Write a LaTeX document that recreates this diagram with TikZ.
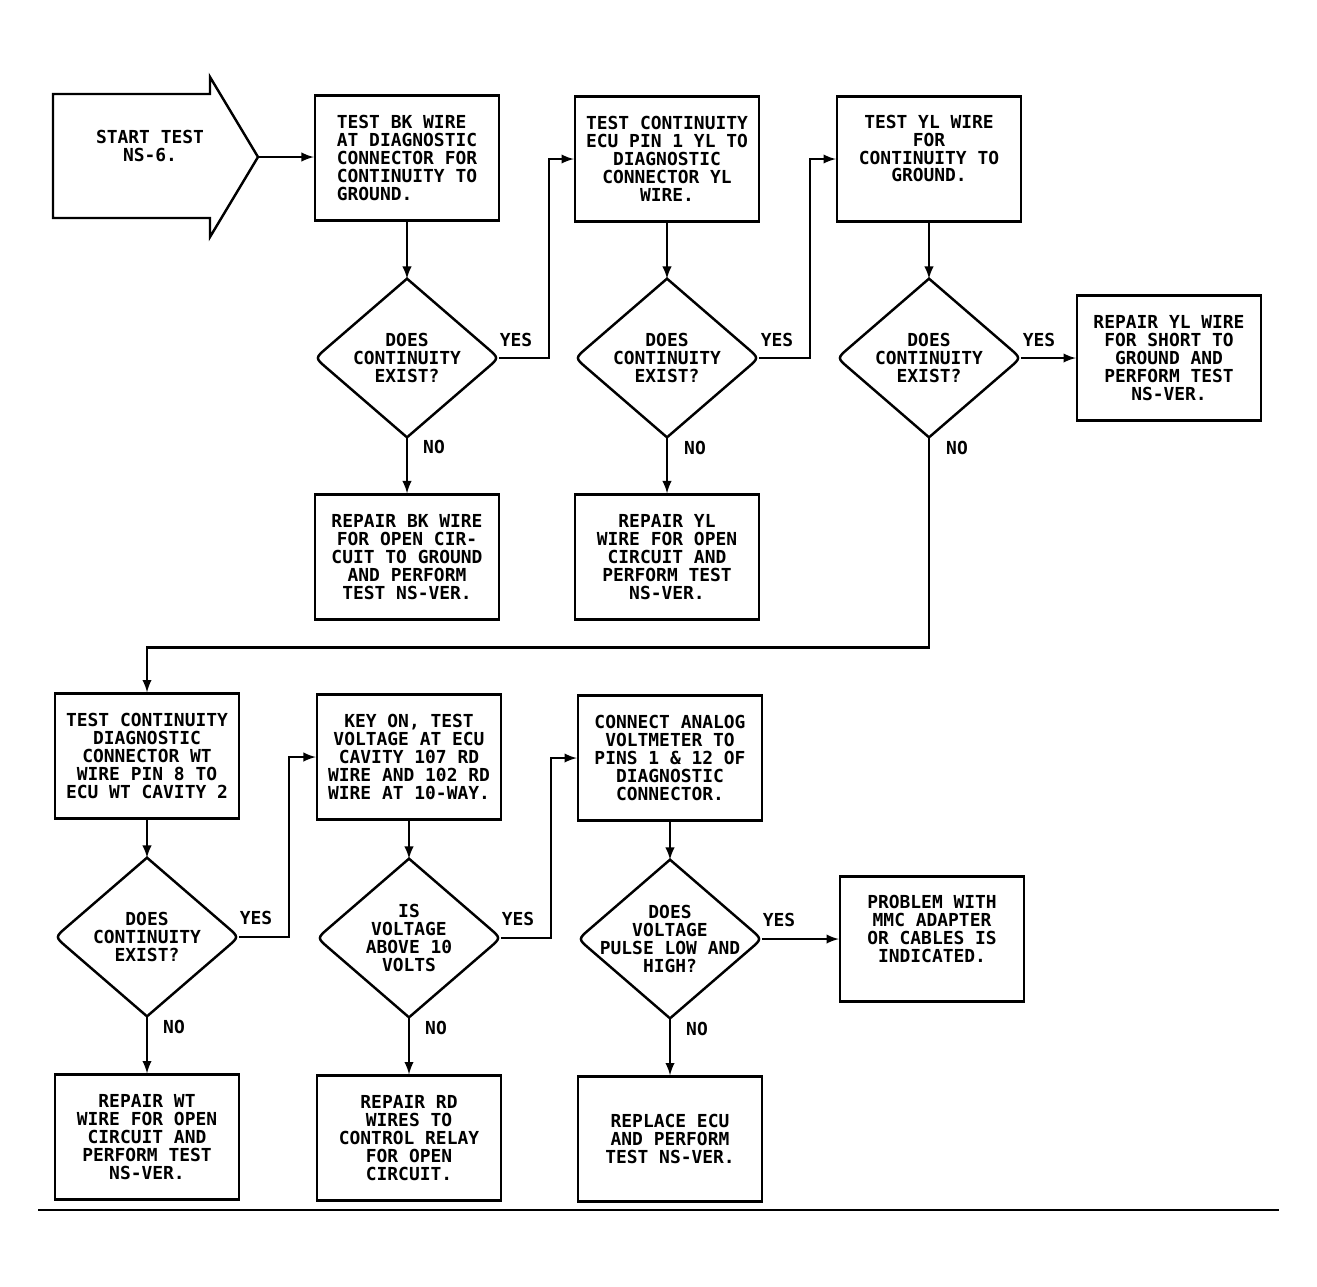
\documentclass[tikz,border=0pt]{standalone}
\usepackage{fontspec}
\setmonofont{DejaVu Sans Mono}
\usetikzlibrary{calc}

\begin{document}
\begin{tikzpicture}[x=0.02cm,y=-0.02cm,
          font=\ttfamily\bfseries\fontsize{10.2}{10.2}\selectfont,
          flowline/.style={line width=1.4pt},
          box/.style={flowline,draw,align=center,minimum width=3.68cm,minimum height=2.5cm,inner sep=0pt},
          decision/.style={align=center,minimum width=3.66cm,minimum height=3.16cm,inner sep=0pt},
          arrow/.style={flowline,-latex}]
          \useasboundingbox (0,0) rectangle (1317,1286);
          \node[align=center] (start) at (150,146) {START TEST\\NS-6.};
          \draw[flowline] (53,94) -- (210,94) -- (210,77) -- (258,157) coordinate (tip) -- (210,237) -- (210,218) -- (53,218) -- cycle;
          \node[box,align=left] (b1) at (407,158) {TEST BK WIRE\\AT DIAGNOSTIC\\CONNECTOR FOR\\CONTINUITY TO\\GROUND.};
          \node[decision] (d1) at (407,358) {DOES\\CONTINUITY\\EXIST?};
          \node[box] (r1) at (407,557) {REPAIR BK WIRE\\FOR OPEN CIR-\\CUIT TO GROUND\\AND PERFORM\\TEST NS-VER.};
          \node[box] (b2) at (667,159) {TEST CONTINUITY\\ECU PIN 1 YL TO\\DIAGNOSTIC\\CONNECTOR YL\\WIRE.};
          \node[decision] (d2) at (667,358) {DOES\\CONTINUITY\\EXIST?};
          \node[box] (r2) at (667,557) {REPAIR YL\\WIRE FOR OPEN\\CIRCUIT AND\\PERFORM TEST\\NS-VER.};
          \node[box,text depth=12pt] (b3) at (929,159) {TEST YL WIRE\\FOR\\CONTINUITY TO\\GROUND.};
          \node[decision] (d3) at (929,358) {DOES\\CONTINUITY\\EXIST?};
          \node[box] (r3) at (1169,358) {REPAIR YL WIRE\\FOR SHORT TO\\GROUND AND\\PERFORM TEST\\NS-VER.};
          \node[box] (b4) at (147,756) {TEST CONTINUITY\\DIAGNOSTIC\\CONNECTOR WT\\WIRE PIN 8 TO\\ECU WT CAVITY 2};
          \node[decision] (d4) at (147,937) {DOES\\CONTINUITY\\EXIST?};
          \node[box] (r4) at (147,1137) {REPAIR WT\\WIRE FOR OPEN\\CIRCUIT AND\\PERFORM TEST\\NS-VER.};
          \node[box] (b5) at (409,757) {KEY ON, TEST\\VOLTAGE AT ECU\\CAVITY 107 RD\\WIRE AND 102 RD\\WIRE AT 10-WAY.};
          \node[decision] (d5) at (409,938) {IS\\VOLTAGE\\ABOVE 10\\VOLTS};
          \node[box] (r5) at (409,1138) {REPAIR RD\\WIRES TO\\CONTROL RELAY\\FOR OPEN\\CIRCUIT.};
          \node[box] (b6) at (670,758) {CONNECT ANALOG\\VOLTMETER TO\\PINS 1 \& 12 OF\\DIAGNOSTIC\\CONNECTOR.};
          \node[decision] (d6) at (670,939) {DOES\\VOLTAGE\\PULSE LOW AND\\HIGH?};
          \node[box] (r6) at (670,1139) {REPLACE ECU\\AND PERFORM\\TEST NS-VER.};
          \node[box,text depth=12pt] (r7) at (932,939) {PROBLEM WITH\\MMC ADAPTER\\OR CABLES IS\\INDICATED.};
          \foreach \n in {d1,d2,d3,d4,d5,d6}
            \draw[flowline] (\n.north) -- ($(\n.west)!0.12!(\n.north)$) .. controls (\n.west) .. ($(\n.west)!0.12!(\n.south)$) -- (\n.south) -- ($(\n.east)!0.12!(\n.south)$) .. controls (\n.east) .. ($(\n.east)!0.12!(\n.north)$) -- cycle;
          \draw[arrow] (tip) -- (tip -| b1.west);
          \draw[arrow] (b1) -- (d1);
          \draw[arrow] (d1) -- (r1);
          \draw[arrow] (d1.east) -- ++(50,0) |- (b2.west);
          \draw[arrow] (b2) -- (d2);
          \draw[arrow] (d2) -- (r2);
          \draw[arrow] (d2.east) -- ++(51,0) |- (b3.west);
          \draw[arrow] (b3) -- (d3);
          \draw[arrow] (d3) -- (r3);
          \draw[arrow] (d3.south) -- ++(0,210) -| (b4.north);
          \draw[arrow] (b4) -- (d4);
          \draw[arrow] (d4) -- (r4);
          \draw[arrow] (d4.east) -- ++(50,0) |- (b5.west);
          \draw[arrow] (b5) -- (d5);
          \draw[arrow] (d5) -- (r5);
          \draw[arrow] (d5.east) -- ++(50,0) |- (b6.west);
          \draw[arrow] (b6) -- (d6);
          \draw[arrow] (d6) -- (r6);
          \draw[arrow] (d6) -- (r7);
          \node (yes1) at (516,340) {YES};
          \node (yes2) at (777,340) {YES};
          \node (yes3) at (1039,340) {YES};
          \node (no1) at (434,447) {NO};
          \node (no2) at (695,448) {NO};
          \node (no3) at (957,448) {NO};
          \node (yes4) at (256,918) {YES};
          \node (yes5) at (518,919) {YES};
          \node (yes6) at (779,920) {YES};
          \node (no4) at (174,1027) {NO};
          \node (no5) at (436,1028) {NO};
          \node (no6) at (697,1029) {NO};
          \draw[line width=1pt] (38,1210) -- (1279,1210);
        \end{tikzpicture}
\end{document}
